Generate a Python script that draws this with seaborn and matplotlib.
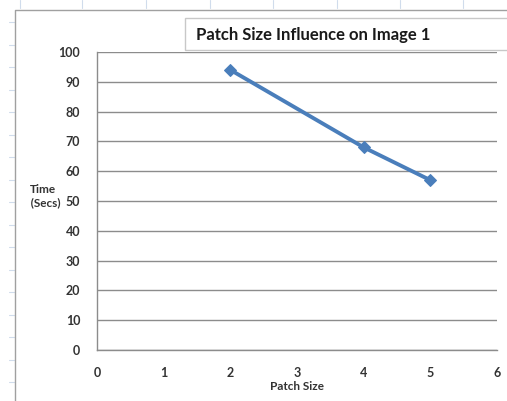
import pandas as pd
import seaborn as sns
import matplotlib.pyplot as plt
from matplotlib.lines import Line2D
from matplotlib.patches import Rectangle

# dados
patch_size = [2, 4, 5]
tempo = [94, 68, 57]

df = pd.DataFrame({'patch_size': patch_size, 'tempo': tempo})

sns.set_style("white")
plt.rcParams['font.family'] = ['Lato', 'DejaVu Sans']

fig = plt.figure(figsize=(5.07, 4.01), dpi=100)
ax = fig.add_axes([97 / 507, 51 / 401, 400 / 507, 298 / 401])

# marcas das celulas do excel ao fundo
for x in [20, 82, 146, 210, 273, 337, 400, 463]:
    fig.add_artist(Line2D([x / 507, x / 507], [1, 393 / 401], color='#d0dcec', lw=0.8))
for y in [22, 45, 67, 90, 112, 135, 157, 180, 202, 225, 247, 270, 292, 315, 337, 360, 382]:
    fig.add_artist(Line2D([9 / 507, 14 / 507], [1 - y / 401, 1 - y / 401], color='#d0dcec', lw=0.8))

# borda da area do grafico
fig.add_artist(Line2D([15 / 507, 15 / 507, 1], [0, 391 / 401, 391 / 401], color='#a0a0a0', lw=1))

sns.lineplot(data=df, x='patch_size', y='tempo', ax=ax, color='#4a7ebb', linewidth=2.8,
             marker='D', markersize=6, markeredgecolor='#4a7ebb')

ax.set_xlim(0, 6)
ax.set_ylim(0, 100)
ax.set_xticks(range(0, 7))
ax.set_yticks(range(0, 101, 10))
ax.yaxis.grid(True, color='#8c8c8c', linewidth=1)
ax.set_axisbelow(True)
for s in ['top', 'right']:
    ax.spines[s].set_visible(False)
for s in ['left', 'bottom']:
    ax.spines[s].set_color('#8c8c8c')
    ax.spines[s].set_linewidth(1)
ax.tick_params(axis='both', direction='out', length=4, width=1, color='#8c8c8c',
               labelsize=9, labelcolor='#333333', pad=8)
for lbl in ax.get_xticklabels() + ax.get_yticklabels():
    lbl.set_fontweight('bold')

ax.set_xlabel('Patch Size', fontsize=8.5, fontweight='bold', color='#333333', labelpad=2)
ax.set_ylabel('Time\n  (Secs)', fontsize=8.5, fontweight='bold', color='#333333', rotation=0,
              labelpad=0)
ax.yaxis.set_label_coords(-0.135, 0.477)

# caixa do titulo
fig.add_artist(Rectangle((185 / 507, 1 - 50 / 401), 330 / 507, 32 / 401, transform=fig.transFigure,
                         facecolor='white', edgecolor='#c8c8c8', lw=1, zorder=5))
fig.text(196 / 507, 1 - 35 / 401, 'Patch Size Influence on Image 1', fontsize=12, fontweight='bold',
         color='#1a1a1a', va='center', ha='left', zorder=6)

plt.savefig('out.png', dpi=100)
